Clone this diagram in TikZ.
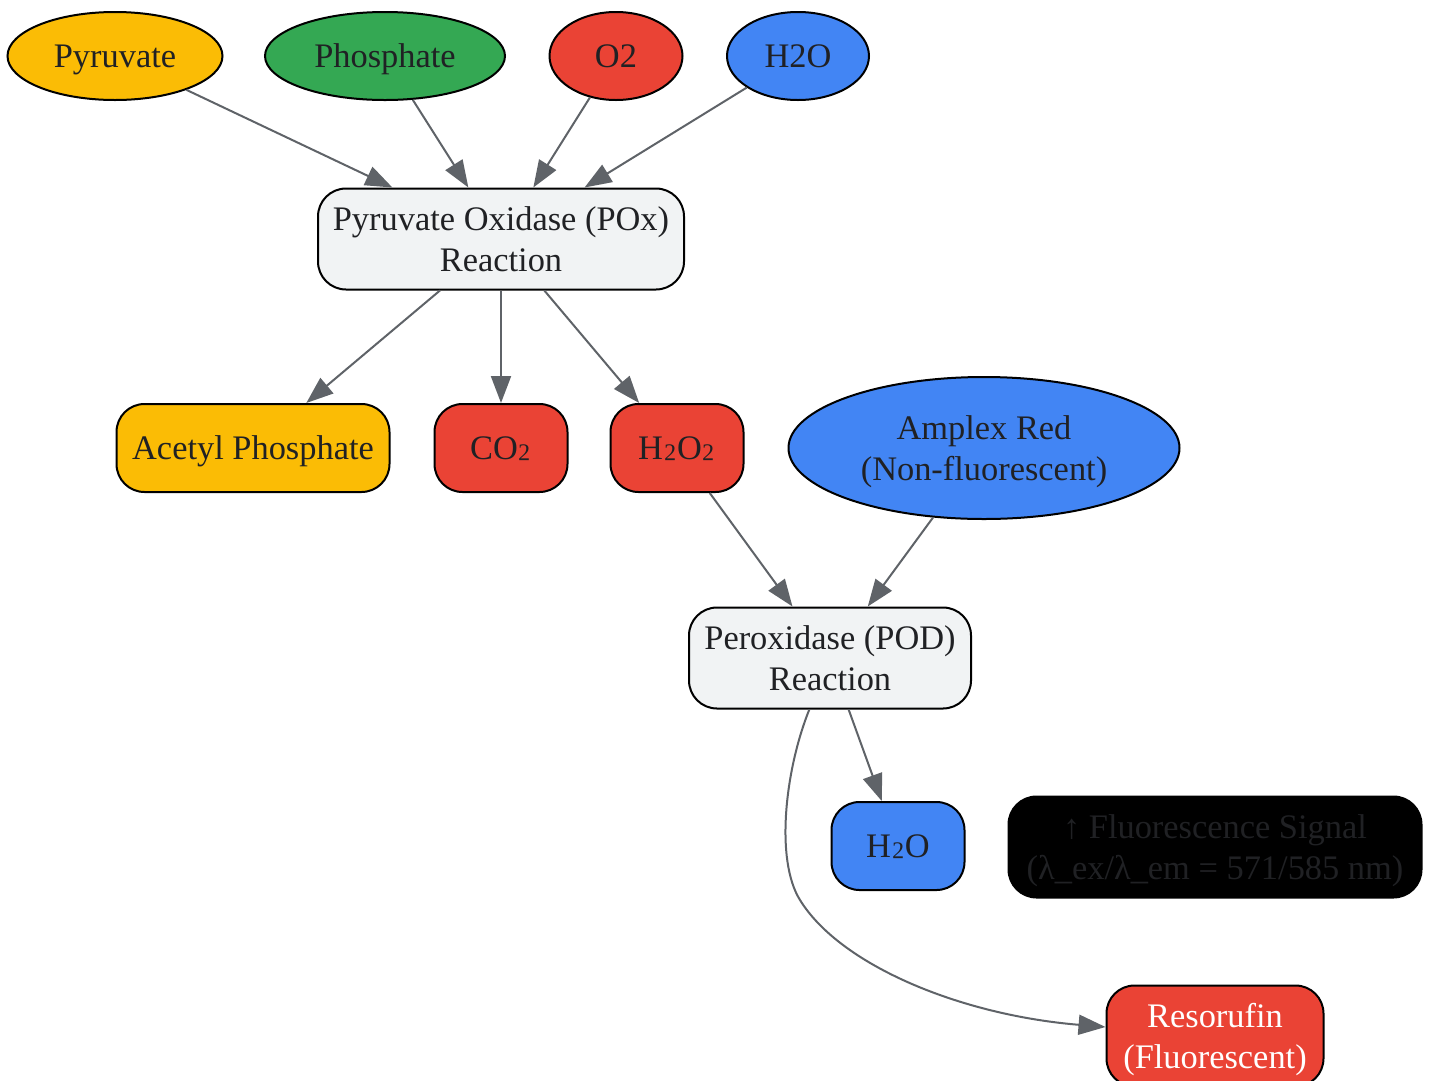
\documentclass[tikz,border=0pt]{standalone}
\usepackage{fontspec}
\setmainfont{Liberation Serif}
\usepackage{xcolor}
\usepackage{tikz}
\usetikzlibrary{arrows.meta, positioning, shapes.geometric}

\definecolor{gyellow}{HTML}{FBBC05}
\definecolor{ggreen}{HTML}{34A853}
\definecolor{gred}{HTML}{EA4335}
\definecolor{gblue}{HTML}{4285F4}
\definecolor{glight}{HTML}{F1F3F4}
\definecolor{ink}{HTML}{202124}
\definecolor{edgegray}{HTML}{5F6368}

% subscript two sitting on the baseline
\newcommand{\subtwo}{\raisebox{0.19em}{\fontsize{40}{40}\selectfont ₂}}

\begin{document}
\begin{tikzpicture}[
		x=1pt, y=-1pt,
		every node/.style={font=\fontsize{34.4}{41}\selectfont, text=ink, text depth=0pt},
		substrate/.style={ellipse, draw, line width=2pt, inner sep=0pt, minimum height=88pt},
		product/.style={rectangle, draw, rounded corners=28pt, line width=2pt, inner sep=0pt, minimum height=88pt, align=center},
		reaction/.style={rectangle, draw, rounded corners=28pt, line width=2pt, inner sep=0pt, minimum height=101pt, align=center},
		arrow/.style={-{Triangle[length=27pt, width=20pt]}, line width=2pt, draw=edgegray, fill=edgegray}
		]
		\useasboundingbox (0,0) rectangle (1430,1080);
		
		% Nodes
		\node[substrate, fill=gyellow, minimum width=215pt] (pyruvate) at (115,56) {Pyruvate};
		\node[substrate, fill=ggreen, minimum width=240pt] (phosphate) at (385,56) {Phosphate};
		\node[substrate, fill=gred, minimum width=133pt] (oxygen) at (616,56) {O2};
		\node[substrate, fill=gblue, minimum width=142pt] (water) at (798,56) {H2O};
		
		\node[reaction, fill=glight, minimum width=366pt] (pox) at (501,239) {Pyruvate Oxidase (POx)\\Reaction};
		
		\node[product, fill=gyellow, minimum width=273pt] (acetyl) at (253,448) {Acetyl Phosphate};
		\node[product, fill=gred, minimum width=133pt] (co2) at (501,448) {CO\subtwo};
		\node[product, fill=gred, minimum width=133pt] (h2o2) at (677,448) {H\subtwo O\subtwo};
		\node[substrate, fill=gblue, minimum width=391pt, minimum height=142pt, align=center] (amplex) at (984,448) {Amplex Red\\(Non-fluorescent)};
		
		\node[reaction, fill=glight, minimum width=282pt] (pod) at (830,658) {Peroxidase (POD)\\Reaction};
		
		\node[product, fill=gblue, minimum width=133pt] (water2) at (898,846) {H\subtwo O};
		\node[reaction, fill=black, minimum width=413pt] (signal) at (1215,847) {↑ Fluorescence Signal\\(λ\_ex/λ\_em = 571/585 nm)};
		\node[reaction, fill=gred, text=white, minimum width=217pt] (resorufin) at (1215,1036) {Resorufin\\(Fluorescent)};
		
		% Connection arrows
		\draw[arrow] (pyruvate) -- (pox);
		\draw[arrow] (phosphate) -- (pox);
		\draw[arrow] (oxygen) -- (pox);
		\draw[arrow] (water) -- (pox);
		
		\draw[arrow] (pox) -- (acetyl);
		\draw[arrow] (pox) -- (co2);
		\draw[arrow] (pox) -- (h2o2);
		
		\draw[arrow] (h2o2) -- (pod);
		\draw[arrow] (amplex) -- (pod);
		
		\draw[arrow] (pod) -- (water2);
		\draw[arrow, fill=none] (pod) .. controls (785,770) and (775,860) .. (800,900)
			.. controls (840,965) and (960,1015) .. (resorufin);
		
	\end{tikzpicture}
\end{document}
